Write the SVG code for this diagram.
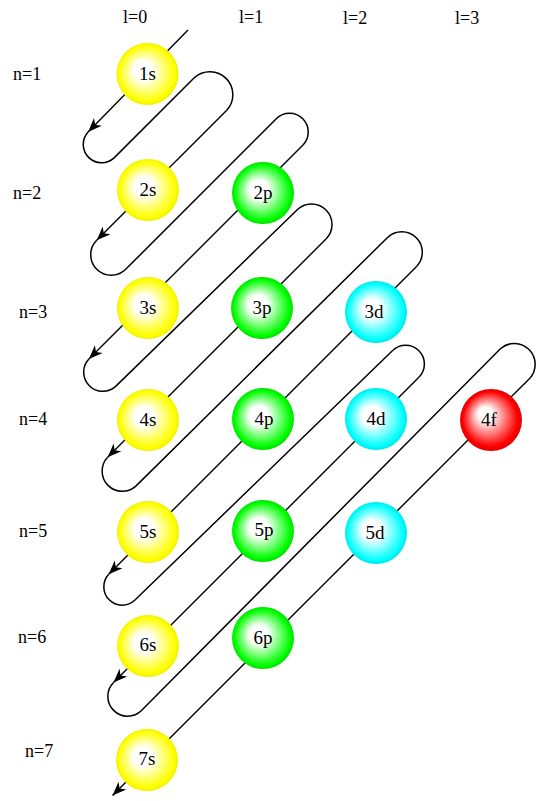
<svg xmlns="http://www.w3.org/2000/svg" width="556" height="801" viewBox="0 0 556 801">
<style>
.lbl{font-family:"Liberation Serif","Times New Roman",serif;font-size:18px;fill:#000}
.orb{font-family:"Liberation Serif","Times New Roman",serif;font-size:19px;fill:#000;text-anchor:middle}
.c{fill:none;stroke:#000;stroke-width:1.5}
.d{fill:none;stroke:#000;stroke-width:1.4;marker-end:url(#arr)}
</style>
<defs>
<marker id="arr" markerUnits="userSpaceOnUse" viewBox="-15 -7 16 14" refX="0" refY="0" markerWidth="16" markerHeight="14" orient="auto">
<path d="M0,0 L-14,-5.5 L-10,0 L-14,5.5 Z" fill="#000"/>
</marker>
<radialGradient id="gy" cx="50%" cy="50%" r="50%" fx="40%" fy="42%">
<stop offset="0" stop-color="#fff"/><stop offset="0.3" stop-color="#fff"/><stop offset="0.9" stop-color="#ffff00"/><stop offset="1" stop-color="#f0f000"/>
</radialGradient>
<radialGradient id="gg" cx="50%" cy="50%" r="50%" fx="40%" fy="42%">
<stop offset="0" stop-color="#fff"/><stop offset="0.3" stop-color="#fff"/><stop offset="0.9" stop-color="#00ff00"/><stop offset="1" stop-color="#00e000"/>
</radialGradient>
<radialGradient id="gc" cx="50%" cy="50%" r="50%" fx="40%" fy="42%">
<stop offset="0" stop-color="#fff"/><stop offset="0.3" stop-color="#fff"/><stop offset="0.9" stop-color="#00ffff"/><stop offset="1" stop-color="#00e6e6"/>
</radialGradient>
<radialGradient id="gr" cx="50%" cy="50%" r="50%" fx="38%" fy="38%">
<stop offset="0" stop-color="#fff"/><stop offset="0.22" stop-color="#fff"/><stop offset="0.88" stop-color="#ff0000"/><stop offset="1" stop-color="#e40000"/>
</radialGradient>
</defs>

<g id="labels">
<text class="lbl" x="123" y="23">l=0</text>
<text class="lbl" x="239" y="23">l=1</text>
<text class="lbl" x="343" y="24">l=2</text>
<text class="lbl" x="455" y="24">l=3</text>
<text class="lbl" x="13" y="80">n=1</text>
<text class="lbl" x="13" y="199">n=2</text>
<text class="lbl" x="19" y="318">n=3</text>
<text class="lbl" x="19" y="425">n=4</text>
<text class="lbl" x="19" y="537">n=5</text>
<text class="lbl" x="18" y="643">n=6</text>
<text class="lbl" x="25" y="757">n=7</text>
</g>

<g id="connectors">
<line class="d" x1="188" y1="30" x2="88.1" y2="131.9"/>
<path class="c" d="M88.1,131.9 A18.4,18.4 0 0 0 114.1,157.9 L194.25,77.75 A23,23 0 0 1 226.75,110.25"/>
<line class="d" x1="226.75" y1="110.25" x2="96.7" y2="240.3"/>
<path class="c" d="M96.7,240.3 A20.5,20.5 0 0 0 125.7,269.3 L276.25,118.75 A18.7,18.7 0 0 1 302.75,145.25"/>
<line class="d" x1="302.75" y1="145.25" x2="88.9" y2="359.1"/>
<path class="c" d="M88.9,359.1 A19.1,19.1 0 0 0 115.9,386.1 L297,210 A20.5,20.5 0 0 1 326,239"/>
<line class="d" x1="326" y1="239" x2="107.6" y2="457.3"/>
<path class="c" d="M107.6,457.3 A20.2,20.2 0 0 0 136.1,485.9 L387.3,237.7 A20.5,20.5 0 0 1 416.3,266.7"/>
<line class="d" x1="416.3" y1="266.7" x2="108.7" y2="574.3"/>
<path class="c" d="M108.7,574.3 A18.4,18.4 0 0 0 134.7,600.3 L392.4,350.7 A18.7,18.7 0 0 1 418.9,377.2"/>
<line class="d" x1="418.9" y1="377.2" x2="113.5" y2="682.5"/>
<path class="c" d="M113.5,682.5 A19.8,19.8 0 0 0 141.5,710.5 L500.4,348.7 A20.9,20.9 0 0 1 529.9,378.2"/>
<line class="d" x1="529.9" y1="378.2" x2="112.5" y2="795.5"/>
</g>

<g id="n1s"><circle cx="147.5" cy="74" r="31" fill="url(#gy)"/><text class="orb" x="147.5" y="80">1s</text></g>
<g id="n2s"><circle cx="148" cy="190" r="31" fill="url(#gy)"/><text class="orb" x="148" y="196">2s</text></g>
<g id="n2p"><circle cx="263" cy="193" r="31" fill="url(#gg)"/><text class="orb" x="263" y="199">2p</text></g>
<g id="n3s"><circle cx="148" cy="308" r="31" fill="url(#gy)"/><text class="orb" x="148" y="314">3s</text></g>
<g id="n3p"><circle cx="262" cy="308" r="31" fill="url(#gg)"/><text class="orb" x="262" y="314">3p</text></g>
<g id="n3d"><circle cx="376" cy="312" r="31" fill="url(#gc)"/><text class="orb" x="374" y="318">3d</text></g>
<g id="n4s"><circle cx="148" cy="420" r="31" fill="url(#gy)"/><text class="orb" x="148" y="426">4s</text></g>
<g id="n4p"><circle cx="263" cy="419" r="31" fill="url(#gg)"/><text class="orb" x="264" y="425">4p</text></g>
<g id="n4d"><circle cx="376" cy="419" r="31" fill="url(#gc)"/><text class="orb" x="376" y="425">4d</text></g>
<g id="n4f"><circle cx="491" cy="420" r="31" fill="url(#gr)"/><text class="orb" x="489" y="426">4f</text></g>
<g id="n5s"><circle cx="148" cy="532" r="31" fill="url(#gy)"/><text class="orb" x="148" y="538">5s</text></g>
<g id="n5p"><circle cx="263" cy="531" r="31" fill="url(#gg)"/><text class="orb" x="264" y="536">5p</text></g>
<g id="n5d"><circle cx="376" cy="533" r="31" fill="url(#gc)"/><text class="orb" x="375" y="539">5d</text></g>
<g id="n6s"><circle cx="148" cy="646" r="31" fill="url(#gy)"/><text class="orb" x="148" y="651">6s</text></g>
<g id="n6p"><circle cx="263" cy="638" r="31" fill="url(#gg)"/><text class="orb" x="263" y="644">6p</text></g>
<g id="n7s"><circle cx="147" cy="760" r="31" fill="url(#gy)"/><text class="orb" x="147" y="765">7s</text></g>
</svg>
